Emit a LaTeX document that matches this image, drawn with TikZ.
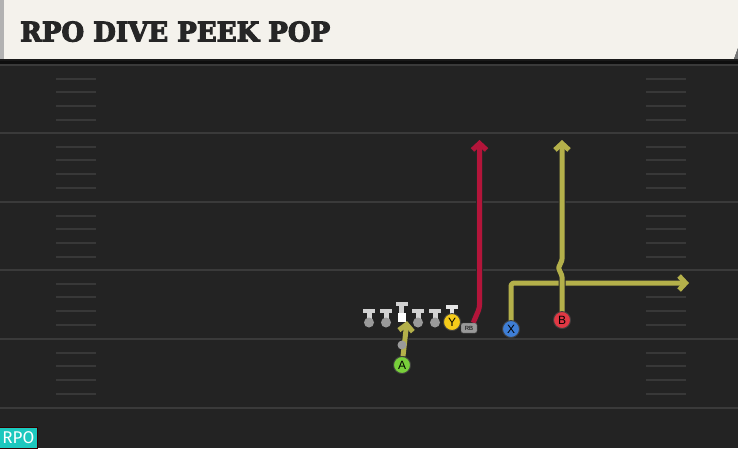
\documentclass[tikz,border=0pt]{standalone}
\usepackage{fontspec}
\setmainfont{DejaVu Sans}
\newfontfamily\titlefont[FakeBold=4]{DejaVu Serif}
\newfontfamily\badgefont{Fira Sans}
\newfontfamily\letterfont{Liberation Sans}
\usetikzlibrary{arrows.meta}
\definecolor{field}{HTML}{232323}
\definecolor{yard}{HTML}{3A3A3A}
\definecolor{hashc}{HTML}{383838}
\definecolor{cream}{HTML}{F4F2EC}
\definecolor{titletext}{HTML}{262626}
\definecolor{routey}{HTML}{B4B04A}
\definecolor{router}{HTML}{B3153A}
\definecolor{agreen}{HTML}{78CF3A}
\definecolor{yyellow}{HTML}{F5CB1A}
\definecolor{xblue}{HTML}{3E7ED6}
\definecolor{bred}{HTML}{E03844}
\definecolor{teal}{HTML}{1CC8BE}
\definecolor{tgray}{HTML}{D2D2D2}
\definecolor{knob}{HTML}{9A9A9A}
\pgfdeclarelayer{bg}
\pgfdeclarelayer{routes}
\pgfsetlayers{bg,routes,main}
\tikzset{
  yardline/.style={draw=yard, line width=2pt},
  hashline/.style={draw=hashc, line width=2pt},
  player/.style={circle, minimum size=17pt, inner sep=0pt, draw=black!75, line width=0.9pt,
     font=\letterfont\fontsize{12}{12}\selectfont, text=black},
  routebase/.style={line cap=butt, line join=round, rounded corners=3pt,
     -{Straight Barb[length=6.5pt,width=14pt]}},
  outline/.style={routebase, line width=7pt, draw=black!85},
  yroute/.style={routebase, line width=5pt, draw=routey},
  rroute/.style={routebase, line width=5pt, draw=router},
  lineman/.pic={
    \fill[tgray] (-6,-9) rectangle (6,-5);
    \fill[tgray] (-2.5,-5.2) rectangle (2.5,3);
    \fill[knob] (0,4.5) circle (5);
  }
}
\begin{document}
\begin{tikzpicture}[x=1pt,y=-1pt]
\useasboundingbox (0,0) rectangle (738,448);
\begin{pgfonlayer}{bg}
\fill[field] (0,0) rectangle (738,448);
\fill[black!60!field] (0,59) rectangle (738,64);
\foreach \y in {65,133,202,270,339,408}
  \draw[yardline] (0,\y) -- (738,\y);
\foreach \y in {65,133,202,270,339}
  \foreach \d in {14,27,41,55} {
    \draw[hashline] (56,\y+\d) -- (96,\y+\d);
    \draw[hashline] (646,\y+\d) -- (686,\y+\d);
  }
% header
\fill[cream] (0,0) -- (738,0) -- (738,48) -- (734,59) -- (0,59) -- cycle;
\fill[black!55] (734,59) -- (738,48) -- (738,59) -- cycle;
\fill[black!30] (0,0) rectangle (4,59);
\fill[black!90] (0,59) rectangle (738,61);
\end{pgfonlayer}

\node[anchor=south west, inner sep=0pt, text=titletext] (title) at (20,42)
  {\resizebox{310pt}{20pt}{\titlefont\bfseries RPO DIVE PEEK POP}};

% offensive line
\pic at (369,318) {lineman};
\pic at (386,318) {lineman};
\pic at (418,318) {lineman};
\pic at (435,318) {lineman};
\fill[tgray] (395.5,302) rectangle (407.5,306);
\fill[tgray] (399,305) rectangle (404,313);
\node[fill=white, minimum width=8pt, minimum height=9pt, inner sep=0pt] (C) at (401.5,317.5) {};
% Y's tee
\fill[white!90!black] (445.5,305) rectangle (458,308.5);
\fill[white!90!black] (449.5,308) rectangle (454,316);

\node[circle, fill=knob, minimum size=9pt, inner sep=0pt] (qb) at (402,345) {};

\node[player, fill=agreen] (A) at (402,365) {A};
\node[player, fill=yyellow] (Y) at (452,322) {Y};
\node[player, fill=xblue] (X) at (511,329) {X};
\node[player, fill=bred] (B) at (562,320) {B};
\node[draw=black!70, fill=black!40, rounded corners=2pt, minimum width=16pt, minimum height=10pt,
      inner sep=0pt, font=\letterfont\fontsize{6}{6}\selectfont, text=black] (RB) at (469,328) {RB};

\coordinate (aend) at (407,321);
\coordinate (rbend) at (479.5,308);
\coordinate (rend) at (479.5,140);
\coordinate (xend) at (689,283);
\coordinate (bend) at (562,140);

\begin{pgfonlayer}{routes}
\foreach \s in {outline,yroute}
  \draw[\s] (A) -- (aend);
\foreach \s in {outline,rroute}
  \draw[\s] ([xshift=-4pt]RB.north east) -- (rbend) -- (rend);
\foreach \s in {outline,yroute}
  \draw[\s] (X.center) |- (xend);
\foreach \s in {outline,yroute}
  \draw[\s, rounded corners=1pt] (B.center) -- (562,276) -- (558.5,268) -- (562,260) -- (bend);
\end{pgfonlayer}

\node[anchor=south west, fill=teal, draw=black!80!red, line width=0.8pt, minimum width=38pt, minimum height=21pt,
      inner sep=0pt, text=white, font=\badgefont\fontsize{17}{17}\selectfont] (rpo) at (-1,449) {RPO};
\end{tikzpicture}
\end{document}
